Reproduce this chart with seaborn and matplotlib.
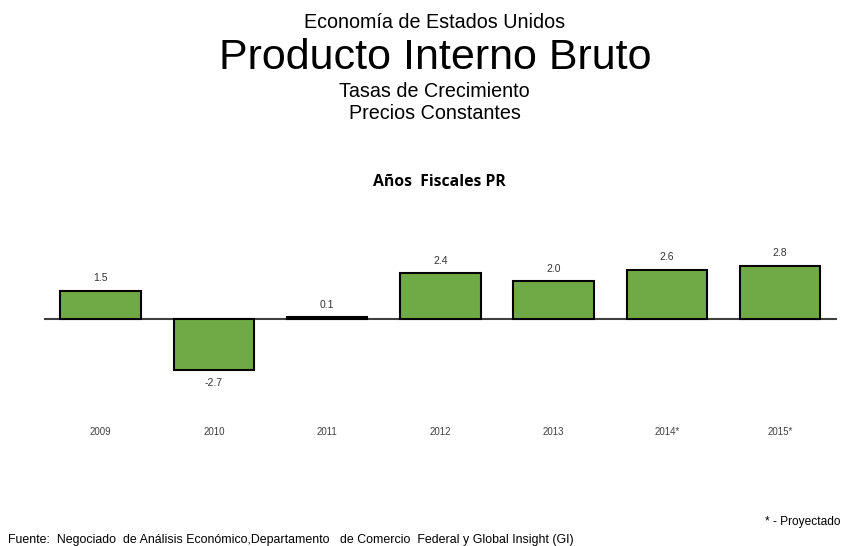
import pandas as pd
import matplotlib.pyplot as plt
import seaborn as sns

# Datos: PIB de EE.UU., tasas de crecimiento (precios constantes)
anios = ["2009", "2010", "2011", "2012", "2013", "2014*", "2015*"]
tasas = [1.5, -2.7, 0.1, 2.4, 2.0, 2.6, 2.8]
etiquetas = ["1.5", "-2.7", "0.1", "2.4", "2.0", "2.6", "2.8"]

df = pd.DataFrame({"anio": anios, "tasa": tasas})

sns.set_style("white")
plt.rcParams["font.family"] = ["Liberation Sans", "DejaVu Sans"]
plt.rcParams["text.color"] = "black"

fig = plt.figure(figsize=(8.41, 5.46), dpi=100)
ax = fig.add_axes([0.0523, 0.249, 0.9427, 0.33])

sns.barplot(data=df, x="anio", y="tasa", color="#70AA46", edgecolor="black",
            linewidth=1.5, width=0.71, saturation=1, ax=ax)

ax.set_xlim(-0.5, 6.5)
ax.set_ylim(-4.8, 4.7)
ax.axhline(0, color="#404040", lw=1.5, zorder=0)

for i, (v, t) in enumerate(zip(tasas, etiquetas)):
    off = 9 if v >= 0 else -9
    ax.annotate(t, (i, v), xytext=(0, off), textcoords="offset points",
                ha="center", va="center", fontsize=7.5, color="#333333")

sns.despine(ax=ax, left=True, bottom=True)
ax.set_yticks([])
ax.tick_params(axis="x", length=0, pad=12, labelsize=7, labelcolor="#404040")
ax.set_xlabel("")
ax.set_ylabel("")

# Títulos
fig.text(0.517, 0.958, "Economía de Estados Unidos", ha="center", va="center", fontsize=14.2)
fig.text(0.517, 0.893, "Producto Interno Bruto", ha="center", va="center", fontsize=31)
fig.text(0.517, 0.832, "Tasas de Crecimiento", ha="center", va="center", fontsize=14.2)
fig.text(0.517, 0.793, "Precios Constantes", ha="center", va="center", fontsize=14.2)
fig.text(0.523, 0.667, "Años  Fiscales PR", ha="center", va="center", fontsize=11.3,
         fontweight="bold", family=["Open Sans", "DejaVu Sans"])

# Notas
fig.text(0.999, 0.044, "* - Proyectado", ha="right", va="center", fontsize=8.6)
fig.text(0.01, 0.011, "Fuente:  Negociado  de Análisis Económico,Departamento   de Comercio  Federal y Global Insight (GI)",
         ha="left", va="center", fontsize=8.9)

fig.savefig("out.png", dpi=100)
